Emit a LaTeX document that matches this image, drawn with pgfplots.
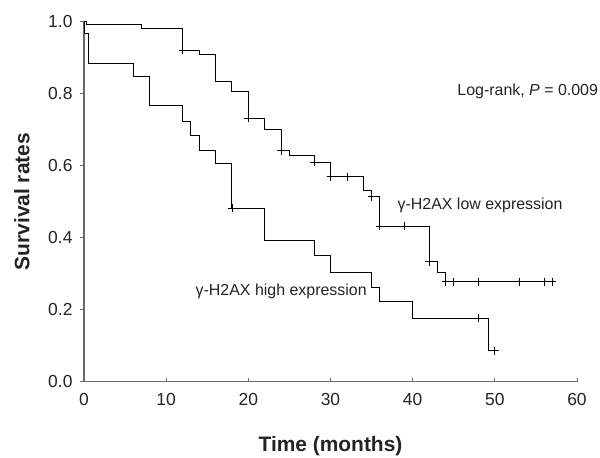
\documentclass[border=0pt]{standalone}
\usepackage{fontspec}
\setmainfont{Liberation Sans}
\usepackage{pgfplots}
\pgfplotsset{compat=1.18}
\definecolor{axisgray}{RGB}{105,105,105}
\definecolor{txt}{RGB}{35,35,35}

\begin{document}
\begin{tikzpicture}
\useasboundingbox (0bp,0bp) rectangle (600bp,-458bp);
\begin{axis}[
    at={(84bp,-381.7bp)}, anchor=south west,
    scale only axis, width=493bp, height=360bp,
    xmin=0, xmax=60, ymin=0, ymax=1,
    clip=false,
    axis x line=bottom, axis y line=left,
    axis line style={-, axisgray, line width=1.3bp},
    xtick={0,10,...,60}, ytick={0,0.2,0.4,0.6,0.8,1},
    tick align=inside, major tick length=4bp,
    tick style={axisgray, line width=1bp},
    y tick style={xshift=-4bp},
    yticklabel={\pgfmathprintnumber[fixed,fixed zerofill,precision=1]{\tick}},
    /pgf/number format/assume math mode=true,
    ticklabel style={font=\fontsize{17.5}{20}\selectfont, text=txt},
    yticklabel style={xshift=-8bp},
    xticklabel style={yshift=-8bp},
    xlabel={Time (months)}, ylabel={Survival rates},
    xlabel style={font=\fontsize{21}{24}\selectfont\bfseries, text=txt,
        at={(axis description cs:0.5,0)}, anchor=center, yshift=-64bp},
    ylabel style={font=\fontsize{21}{24}\selectfont\bfseries, text=txt,
        at={(axis description cs:0,0.5)}, anchor=center, yshift=62bp},
]
% gamma-H2AX low expression
\addplot[const plot, black, line width=0.9bp] coordinates {
    (0,1) (0.3,0.992) (7,0.980) (12,0.921) (14,0.909) (16,0.835)
    (18,0.805) (20,0.732) (22,0.702) (24,0.642) (25,0.628) (28,0.609)
    (30,0.570) (34,0.532) (35,0.514) (36,0.432) (42,0.333) (43,0.304)
    (44,0.278) (57,0.278)
};
\addplot[only marks, mark=+, mark size=4bp, black, mark options={line width=0.8bp}] coordinates {
    (12,0.921) (20,0.732) (24,0.642) (28,0.609) (30,0.570) (32,0.570)
    (35,0.514) (36,0.432) (39,0.432) (42,0.333) (44,0.278) (45,0.278)
    (48,0.278) (53,0.278) (56,0.278) (57,0.278)
};
% gamma-H2AX high expression
\addplot[const plot, black, line width=0.9bp] coordinates {
    (0,1) (0.1,0.966) (0.5,0.884) (6,0.847) (8,0.767) (12,0.724)
    (13,0.683) (14,0.642) (16,0.606) (18,0.482) (22,0.392) (28,0.350)
    (30,0.304) (35,0.262) (36,0.222) (40,0.176) (49.2,0.086) (50,0.086)
};
\addplot[only marks, mark=+, mark size=4bp, black, mark options={line width=0.8bp}] coordinates {
    (18,0.482) (48,0.176) (50,0.086)
};
\node[font=\fontsize{16}{19}\selectfont, text=txt] at (axis cs:54,0.806) {Log-rank, \textit{P} = 0.009};
\node[font=\fontsize{16}{19}\selectfont, text=txt] at (axis cs:48.2,0.49) {γ-H2AX low expression};
\node[font=\fontsize{16}{19}\selectfont, text=txt] at (axis cs:24,0.252) {γ-H2AX high expression};
\end{axis}
\end{tikzpicture}
\end{document}
